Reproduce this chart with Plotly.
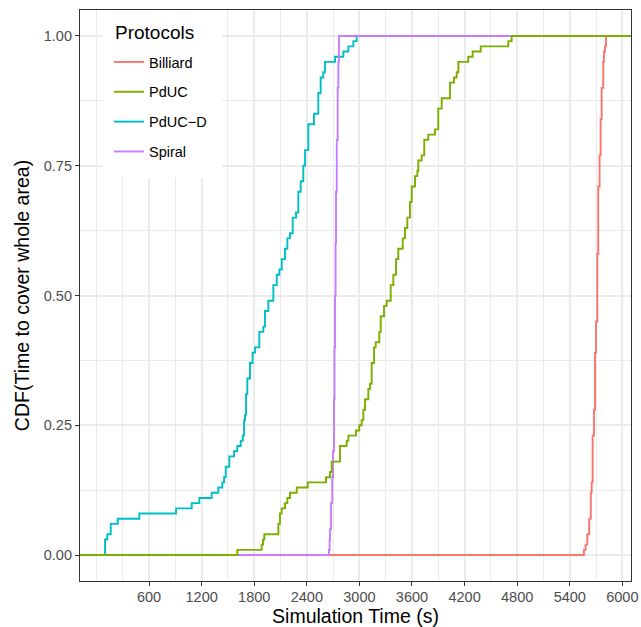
import plotly.graph_objects as go

# ---- data (ECDF step positions) ----
protocols = ["Billiard", "PdUC", "PdUC\u2212D", "Spiral"]
colors = ["#F8766D", "#7CAE00", "#00BFC4", "#C77CFF"]

billiard_t = [5562, 5581, 5600, 5622, 5640, 5650, 5661, 5676, 5688, 5700, 5714, 5725,
              5740, 5752, 5764, 5782, 5790, 5802, 5813]
billiard_cdf = [0.01, 0.02, 0.04, 0.07, 0.12, 0.14, 0.23, 0.28, 0.39, 0.45, 0.58, 0.71,
                0.77, 0.84, 0.90, 0.95, 0.97, 0.98, 1.00]

pduc_t = [1607, 1885, 1900, 1915, 2075, 2094, 2113, 2151, 2178, 2208, 2285, 2410, 2619,
          2665, 2684, 2779, 2855, 2874, 2961, 2999, 3026, 3045, 3064, 3102, 3121, 3140,
          3167, 3186, 3227, 3243, 3281, 3311, 3357, 3387, 3418, 3444, 3494, 3520, 3547,
          3577, 3597, 3634, 3661, 3672, 3711, 3740, 3786, 3862, 3900, 3939, 4034, 4079,
          4110, 4129, 4242, 4292, 4384, 4699, 4737]
pduc_cdf = [0.01, 0.02, 0.03, 0.04, 0.06, 0.08, 0.09, 0.10, 0.11, 0.12, 0.13, 0.14, 0.15,
            0.16, 0.18, 0.21, 0.22, 0.23, 0.24, 0.25, 0.26, 0.28, 0.30, 0.32, 0.33, 0.37,
            0.40, 0.41, 0.43, 0.46, 0.48, 0.49, 0.52, 0.54, 0.57, 0.59, 0.61, 0.63, 0.65,
            0.68, 0.71, 0.73, 0.74, 0.76, 0.77, 0.80, 0.81, 0.82, 0.86, 0.88, 0.91, 0.92,
            0.93, 0.95, 0.96, 0.97, 0.98, 0.99, 1.00]

pducd_t = [98, 124, 163, 243, 489, 908, 1087, 1174, 1315, 1390, 1436, 1456, 1475, 1516,
           1570, 1607, 1646, 1669, 1684, 1695, 1707, 1721, 1752, 1781, 1809, 1858, 1904,
           1923, 1961, 2018, 2057, 2087, 2114, 2151, 2178, 2208, 2239, 2277, 2303, 2330,
           2360, 2380, 2417, 2482, 2531, 2558, 2588, 2607, 2722, 2817, 2874, 2931, 2969]
pducd_cdf = [0.03, 0.04, 0.06, 0.07, 0.08, 0.09, 0.10, 0.11, 0.12, 0.13, 0.14, 0.15, 0.17,
             0.19, 0.20, 0.21, 0.22, 0.23, 0.26, 0.27, 0.31, 0.34, 0.37, 0.39, 0.40, 0.43,
             0.44, 0.47, 0.49, 0.52, 0.54, 0.55, 0.57, 0.59, 0.61, 0.62, 0.65, 0.66, 0.70,
             0.72, 0.75, 0.78, 0.83, 0.85, 0.89, 0.92, 0.93, 0.95, 0.96, 0.97, 0.98, 0.99,
             1.00]

spiral_t = [2653, 2660, 2665, 2676, 2690, 2699, 2710, 2716, 2722, 2728, 2733, 2742, 2752,
            2760, 2767]
spiral_cdf = [0.01, 0.03, 0.05, 0.10, 0.15, 0.20, 0.30, 0.40, 0.50, 0.60, 0.70, 0.80, 0.90,
              0.95, 1.00]

x_tick_vals = [600, 1200, 1800, 2400, 3000, 3600, 4200, 4800, 5400, 6000]
y_tick_vals = [0, 0.25, 0.5, 0.75, 1.0]
y_tick_text = ["0.00", "0.25", "0.50", "0.75", "1.00"]

series = {
    "Billiard": (billiard_t, billiard_cdf),
    "PdUC": (pduc_t, pduc_cdf),
    "PdUC\u2212D": (pducd_t, pducd_cdf),
    "Spiral": (spiral_t, spiral_cdf),
}

# ggplot-like 5% expansion
all_t = billiard_t + pduc_t + pducd_t + spiral_t
tmin, tmax = min(all_t), max(all_t)
span = tmax - tmin
x_range = [tmin - 0.05 * span, tmax + 0.05 * span]
pad_left = x_range[0] - span
pad_right = x_range[1] + span

fig = go.Figure()
draw_order = ["Billiard", "PdUC\u2212D", "Spiral", "PdUC"]
for name in draw_order:
    i = protocols.index(name)
    t, c = series[name]
    fig.add_trace(go.Scatter(
        x=[pad_left] + list(t) + [pad_right],
        y=[0] + list(c) + [1],
        mode="lines",
        line=dict(color=colors[i], width=1.9, shape="hv"),
        name=name,
        legendgroup=name,
        legendrank=i + 1,
        showlegend=True,
    ))

W, H = 641, 627
ML, MR, MT, MB = 80, 10, 10, 46
PW, PH = W - ML - MR, H - MT - MB


def px_x(p):
    return (p - ML) / PW


def px_y(p):
    return (H - MB - p) / PH


font_family = "Liberation Sans, Arial, Helvetica, sans-serif"
fig.update_layout(
    width=W, height=H,
    margin=dict(l=ML, r=MR, t=MT, b=MB, autoexpand=False),
    paper_bgcolor="white",
    plot_bgcolor="white",
    font=dict(family=font_family, color="#000000"),
    showlegend=True,
    legend=dict(
        x=px_x(109), y=px_y(46), xanchor="left", yanchor="top",
        bgcolor="rgba(255,255,255,0)",
        font=dict(size=14.5, color="#000000"),
        tracegroupgap=8,
        traceorder="grouped",
        itemwidth=30,
    ),
    shapes=[dict(type="rect", xref="paper", yref="paper",
                 x0=px_x(103), x1=px_x(222), y0=px_y(178), y1=1.0,
                 fillcolor="white", line=dict(width=0), layer="above")],
    annotations=[dict(text="Protocols", xref="paper", yref="paper",
                      x=px_x(113), y=px_y(33), xanchor="left", yanchor="middle",
                      showarrow=False, font=dict(size=19, color="#000000"))],
    xaxis=dict(
        range=x_range, automargin=False,
        tickmode="array", tickvals=x_tick_vals,
        ticks="outside", ticklen=4, tickwidth=1, tickcolor="#333333",
        tickfont=dict(size=14.5, color="#4D4D4D"),
        ticklabelstandoff=-2,
        showline=True, mirror=True, linecolor="#333333", linewidth=1.2,
        showgrid=True, gridcolor="#EBEBEB", gridwidth=1.6,
        minor=dict(tickmode="linear", tick0=0, dtick=300, showgrid=True,
                   gridcolor="#EBEBEB", gridwidth=0.8, ticks=""),
        zeroline=False,
        title=dict(text="Simulation Time (s)", font=dict(size=19.5, color="#000000"),
                   standoff=6),
    ),
    yaxis=dict(
        range=[-0.05, 1.05], automargin=False,
        tickmode="array", tickvals=y_tick_vals, ticktext=y_tick_text,
        ticks="outside", ticklen=4, tickwidth=1, tickcolor="#333333",
        tickfont=dict(size=14.5, color="#4D4D4D"),
        showline=True, mirror=True, linecolor="#333333", linewidth=1.2,
        showgrid=True, gridcolor="#EBEBEB", gridwidth=1.6,
        minor=dict(tickmode="linear", tick0=0, dtick=0.125, showgrid=True,
                   gridcolor="#EBEBEB", gridwidth=0.8, ticks=""),
        zeroline=False,
        title=dict(text="CDF(Time to cover whole area)", font=dict(size=19.5, color="#000000"),
                   standoff=8),
    ),
)

fig.write_html("out.html")
